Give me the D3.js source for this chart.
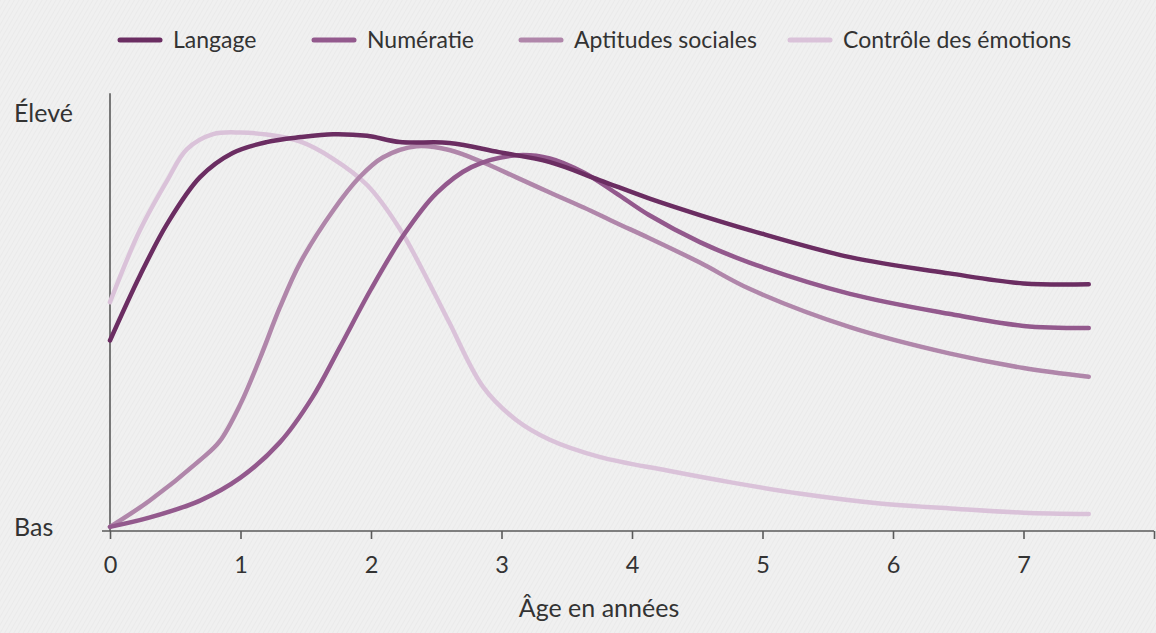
<!DOCTYPE html>
<html>
<head>
<meta charset="utf-8">
<script src="https://cdn.jsdelivr.net/npm/d3@7"></script>
<style>
  html, body { margin: 0; padding: 0; background: #efefef; }
  svg { display: block; font-family: Lato, "Open Sans", sans-serif; }
</style>
</head>
<body>
<svg id="chart"></svg>
<script>
// séries (âge en années, niveau 0 = Bas, 100 = Élevé)
const seriesNames = ["Langage", "Numératie", "Aptitudes sociales", "Contrôle des émotions"];
const seriesColors = ["#6b2d62", "#93598d", "#b086aa", "#dac2d9"];

const langageAge = [0, 0.23, 0.44, 0.69, 0.94, 1.2, 1.46, 1.71, 1.97, 2.22, 2.6, 2.98, 3.37, 3.75, 4.13, 4.52, 4.9, 5.67, 6.43, 7.0, 7.5];
const langageVal = [44.7, 60.3, 72.8, 83.9, 89.7, 92.3, 93.5, 94.2, 93.8, 92.3, 92.1, 89.9, 87.5, 83.2, 78.8, 74.8, 71.2, 64.7, 60.8, 58.4, 58.2];

const numeratieAge = [0, 0.3, 0.69, 1.0, 1.3, 1.55, 1.76, 2.0, 2.25, 2.5, 2.77, 3.1, 3.37, 3.63, 3.88, 4.13, 4.52, 4.9, 5.67, 6.43, 7.0, 7.5];
const numeratieVal = [0, 2.2, 6.3, 11.8, 20.2, 31, 43, 57, 70, 80, 86.3, 89.1, 88.4, 85, 80, 74.8, 68.3, 63.4, 55.9, 51.1, 48.2, 47.7];

const aptitudesAge = [0, 0.3, 0.69, 0.84, 1.0, 1.15, 1.3, 1.46, 1.71, 1.91, 2.09, 2.35, 2.6, 2.86, 3.11, 3.37, 3.63, 3.88, 4.13, 4.52, 4.9, 5.67, 6.43, 7.0, 7.5];
const aptitudesVal = [0, 6.2, 16, 20.5, 29.5, 40.5, 52.5, 63.5, 75.9, 83.8, 88.6, 91.3, 90.4, 87.4, 83.9, 80.2, 76.6, 72.9, 69.3, 63.4, 57.1, 47.9, 41.6, 38.1, 36];

const controleAge = [0, 0.23, 0.44, 0.59, 0.79, 1.0, 1.2, 1.46, 1.71, 1.97, 2.22, 2.47, 2.6, 2.86, 3.11, 3.37, 3.75, 4.27, 4.77, 5.28, 5.9, 6.5, 7.0, 7.5];
const controleVal = [53.9, 71.2, 83.2, 90.6, 94.2, 94.6, 94.1, 92.4, 88.3, 82, 71.5, 57, 49, 33.5, 25.7, 20.9, 16.8, 13.5, 10.6, 8, 5.6, 4.3, 3.4, 3.1];

const xTicks = [0, 1, 2, 3, 4, 5, 6, 7, 8];
const xTickLabels = ["0", "1", "2", "3", "4", "5", "6", "7", ""];
const yLabels = ["Bas", "Élevé"];
const yLabelValues = [0, 100];

const width = 1156, height = 633;
const svg = d3.select("#chart").attr("width", width).attr("height", height);

// fond rayé
const defs = svg.append("defs");
const pat = defs.append("pattern")
  .attr("id", "stripes")
  .attr("width", 4).attr("height", 4)
  .attr("patternUnits", "userSpaceOnUse")
  .attr("patternTransform", "rotate(30)");
pat.append("rect").attr("width", 4).attr("height", 4).attr("fill", "#f0f0f0");
pat.append("line").attr("x1", 0).attr("y1", 0).attr("x2", 0).attr("y2", 4)
  .attr("stroke", "#e7e7e7").attr("stroke-width", 1.2);
svg.append("rect").attr("width", width).attr("height", height).attr("fill", "url(#stripes)");

const xScale = d3.scaleLinear().domain([0, 8]).range([110, 1154]);
const yScale = d3.scaleLinear().domain([-1, 100]).range([531, 110]);

// axe x
const xAxis = d3.axisBottom(xScale)
  .tickValues(xTicks)
  .tickFormat((d, i) => xTickLabels[i])
  .tickSize(8)
  .tickSizeOuter(0)
  .tickPadding(17);
const gx = svg.append("g")
  .attr("transform", `translate(0,${yScale(-1)})`)
  .call(xAxis);
gx.select(".domain").attr("d", `M${xScale(0) - 8},0H${xScale(8)}`);
gx.selectAll("path, line").attr("stroke", "#5a5a5a").attr("stroke-width", 1.6);
gx.selectAll("text").attr("font-size", 23.5).attr("fill", "#333").attr("font-family", "Lato, sans-serif");

// axe y (ligne seule)
svg.append("line")
  .attr("x1", xScale(0)).attr("x2", xScale(0))
  .attr("y1", yScale(-1)).attr("y2", yScale(104))
  .attr("stroke", "#5a5a5a").attr("stroke-width", 1.6);

svg.selectAll(".ylab")
  .data(yLabels)
  .enter()
  .append("text")
  .attr("class", "ylab")
  .attr("x", 14)
  .attr("y", (d, i) => yScale(yLabelValues[i]) + (i === 1 ? 3 : 0))
  .attr("dy", "0.35em")
  .attr("font-size", 25)
  .attr("fill", "#333")
  .text(d => d);

svg.append("text")
  .attr("x", 599)
  .attr("y", 608)
  .attr("dy", "0.35em")
  .attr("text-anchor", "middle")
  .attr("font-size", 25)
  .attr("fill", "#333")
  .text("Âge en années");

// courbes
const series = [
  { name: seriesNames[0], age: langageAge, val: langageVal },
  { name: seriesNames[1], age: numeratieAge, val: numeratieVal },
  { name: seriesNames[2], age: aptitudesAge, val: aptitudesVal },
  { name: seriesNames[3], age: controleAge, val: controleVal }
];
const line = d3.line()
  .x(d => xScale(d[0]))
  .y(d => yScale(d[1]))
  .curve(d3.curveCatmullRom.alpha(0.5));

// ordre de dessin : la plus claire dessous
const drawOrder = [3, 2, 1, 0];
svg.append("g").selectAll("path")
  .data(drawOrder)
  .enter()
  .append("path")
  .attr("d", i => line(series[i].age.map((a, k) => [a, series[i].val[k]])))
  .attr("fill", "none")
  .attr("stroke", i => seriesColors[i])
  .attr("stroke-width", 4.5)
  .attr("stroke-linecap", "round")
  .attr("stroke-linejoin", "round");

// légende
const legendX = [120, 314, 521, 790];
const lg = svg.append("g").selectAll("g")
  .data(seriesNames)
  .enter()
  .append("g")
  .attr("transform", (d, i) => `translate(${legendX[i]},40)`);
lg.append("line")
  .attr("x1", 0).attr("x2", 40)
  .attr("stroke", (d, i) => seriesColors[i])
  .attr("stroke-width", 5)
  .attr("stroke-linecap", "round");
lg.append("text")
  .attr("x", 53)
  .attr("dy", "0.35em")
  .attr("font-size", 23)
  .attr("fill", "#333")
  .text(d => d);
</script>
</body>
</html>
